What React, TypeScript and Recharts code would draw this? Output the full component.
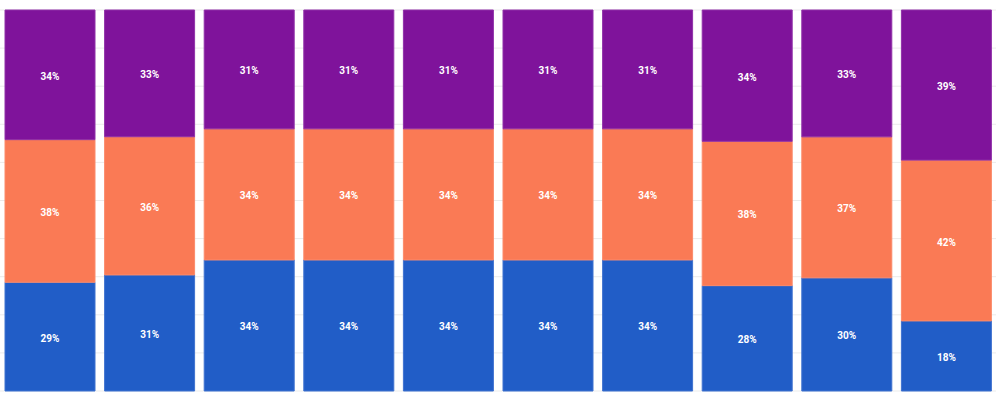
import React from "react";
import { BarChart, Bar, XAxis, YAxis, CartesianGrid, LabelList } from "recharts";

const categories = ["1", "2", "3", "4", "5", "6", "7", "8", "9", "10"];
const blueValues = [28.6, 30.5, 34.4, 34.4, 34.4, 34.4, 34.4, 27.6, 29.7, 18.4];
const orangeValues = [37.5, 36.3, 34.4, 34.4, 34.4, 34.4, 34.4, 37.8, 37.0, 42.2];
const purpleValues = [34.1, 33.3, 31.2, 31.2, 31.2, 31.2, 31.2, 34.4, 33.3, 39.4];
const yTicks = [0, 0.1, 0.2, 0.3, 0.4, 0.5, 0.6, 0.7, 0.8, 0.9, 1];

const data = categories.map((c, i) => ({
  name: c,
  blue: blueValues[i],
  orange: orangeValues[i],
  purple: purpleValues[i],
}));

const renderLabel = (props: any) => {
  const { x, y, width, height, value } = props;
  return (
    <text
      x={x + width / 2}
      y={y + height / 2 + 1.5}
      fill="#ffffff"
      fontSize={10}
      fontWeight="bold"
      fontFamily="Roboto, 'Noto Sans', sans-serif"
      textAnchor="middle"
      dominantBaseline="central"
    >
      {`${Math.round(Number(value))}%`}
    </text>
  );
};

export default function App() {
  return (
    <div style={{ position: "absolute", left: 0, top: 0 }}>
      <BarChart
        width={999}
        height={398}
        data={data}
        stackOffset="expand"
        margin={{ top: 10, right: 3, bottom: 7, left: 0 }}
        barCategoryGap={5}
      >
        <CartesianGrid horizontal vertical={false} stroke="#ebebeb" />
        <XAxis dataKey="name" hide />
        <YAxis hide domain={[0, 1]} ticks={yTicks} />
        <Bar dataKey="blue" stackId="a" fill="#215DC7" stroke="#3f72cf" strokeWidth={1} isAnimationActive={false}>
          <LabelList dataKey="blue" content={renderLabel} />
        </Bar>
        <Bar dataKey="orange" stackId="a" fill="#FA7A55" stroke="#fb8a6a" strokeWidth={1} isAnimationActive={false}>
          <LabelList dataKey="orange" content={renderLabel} />
        </Bar>
        <Bar dataKey="purple" stackId="a" fill="#7F139B" stroke="#9031a8" strokeWidth={1} isAnimationActive={false}>
          <LabelList dataKey="purple" content={renderLabel} />
        </Bar>
      </BarChart>
    </div>
  );
}
